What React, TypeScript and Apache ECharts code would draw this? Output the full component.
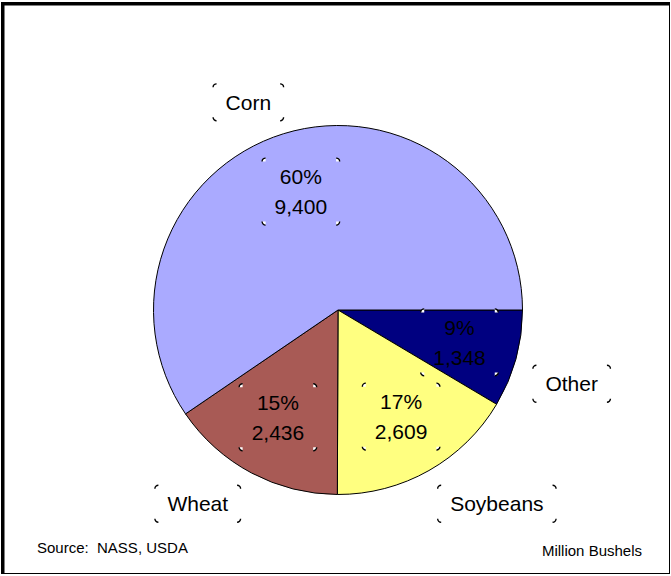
import React, { useEffect, useRef } from "react";
import * as echarts from "echarts";

// Crop production, million bushels (clockwise from 3 o'clock)
const categories = ["Other", "Soybeans", "Wheat", "Corn"];
const production = [1348, 2609, 2436, 9400];
const sliceColors = ["#000080", "#FFFF80", "#A85A55", "#AAAAFF"];
const sourceNote = "Source:  NASS, USDA";
const unitNote = "Million Bushels";

const FONT = "'Liberation Sans', Arial, Helvetica, sans-serif";
// nudges for the category names placed around the pie
const nameOffsets = [[9, 12], [44, -9], [-31, -12], [-21, 15]];
// nudges for the value labels inside the slices
const valueOffsets = [[0, -1], [1, -3], [-1, -4], [0, 2]];

type Rect = { x: number; y: number; width: number; height: number };

function cornerMarks(r: Rect, padX: number, filled: boolean) {
  const x0 = r.x - padX;
  const x1 = r.x + r.width + padX;
  const y0 = r.y;
  const y1 = r.y + r.height;
  const corners: [number, number, number, number][] = [
    [x0, y0, Math.PI, Math.PI * 1.5],
    [x1, y0, Math.PI * 1.5, Math.PI * 2],
    [x1, y1, 0, Math.PI * 0.5],
    [x0, y1, Math.PI * 0.5, Math.PI],
  ];
  const out: any[] = [];
  corners.forEach(([cx, cy, a0, a1]) => {
    if (filled) {
      out.push({
        type: "sector",
        silent: true,
        shape: { cx, cy, r0: 0, r: 3.5, startAngle: a0, endAngle: a1, clockwise: true },
        style: { fill: "#ffffff" },
        z: 20,
      });
    }
    out.push({
      type: "arc",
      silent: true,
      shape: { cx, cy, r: 3.5, startAngle: a0, endAngle: a1, clockwise: true },
      style: { stroke: "#000000", lineWidth: 1.4, fill: "none" },
      z: 21,
    });
  });
  return out;
}

export default function App() {
  const ref = useRef<HTMLDivElement>(null);

  useEffect(() => {
    if (!ref.current) return;
    const chart = echarts.init(ref.current, undefined, { renderer: "svg" });

    const valueRects: Rect[] = [];
    const nameRects: Rect[] = [];

    const pieData = categories.map((name, i) => ({
      name,
      value: production[i],
      itemStyle: { color: sliceColors[i] },
    }));

    const center = [338, 310];
    const R = 184.5;

    chart.setOption({
      animation: false,
      backgroundColor: "#ffffff",
      series: [
        {
          type: "pie",
          center,
          radius: [0, R],
          startAngle: 0,
          clockwise: true,
          silent: true,
          avoidLabelOverlap: false,
          label: { show: false },
          labelLine: { show: false },
          itemStyle: { borderColor: "#000000", borderWidth: 1 },
          data: pieData,
          z: 2,
        },
        {
          // percentages and values inside the slices
          type: "pie",
          center,
          radius: [R / 3, R],
          startAngle: 0,
          clockwise: true,
          silent: true,
          avoidLabelOverlap: false,
          itemStyle: { color: "rgba(0,0,0,0)", borderWidth: 0 },
          label: {
            show: true,
            position: "inside",
            rotate: 0,
            color: "#000000",
            fontFamily: FONT,
            fontSize: 21,
            lineHeight: 30,
            formatter: (p: any) =>
              Math.round(p.percent) + "%\n" + Number(p.value).toLocaleString("en-US"),
          },
          labelLine: { show: false },
          labelLayout: (p: any) => {
            valueRects[p.dataIndex] = p.labelRect;
            return {};
          },
          data: categories.map((name, i) => ({
            name,
            value: production[i],
            label: { offset: valueOffsets[i] },
          })),
          z: 3,
        },
        {
          // category names around the pie
          type: "pie",
          center,
          radius: [200, 260],
          startAngle: 0,
          clockwise: true,
          silent: true,
          avoidLabelOverlap: false,
          itemStyle: { color: "rgba(0,0,0,0)", borderWidth: 0 },
          label: {
            show: true,
            position: "inside",
            rotate: 0,
            color: "#000000",
            fontFamily: FONT,
            fontSize: 21,
            lineHeight: 30,
            formatter: "{b}",
          },
          labelLine: { show: false },
          labelLayout: (p: any) => {
            nameRects[p.dataIndex] = p.labelRect;
            return {};
          },
          data: categories.map((name, i) => ({
            name,
            value: production[i],
            label: { offset: nameOffsets[i] },
          })),
          z: 3,
        },
      ],
    });

    const frame = [
      { type: "rect", shape: { x: 1, y: 2, width: 669, height: 3.5 }, style: { fill: "#000" } },
      { type: "rect", shape: { x: 1, y: 2, width: 3.5, height: 572 }, style: { fill: "#000" } },
      { type: "rect", shape: { x: 669, y: 2, width: 1, height: 572 }, style: { fill: "#000" } },
      { type: "rect", shape: { x: 1, y: 573, width: 669, height: 1 }, style: { fill: "#000" } },
    ];
    const notes = [
      {
        type: "text",
        x: 37,
        y: 547,
        style: {
          text: sourceNote,
          font: `15px ${FONT}`,
          fill: "#000",
          textAlign: "left",
          textVerticalAlign: "middle",
        },
      },
      {
        type: "text",
        x: 642,
        y: 550,
        style: {
          text: unitNote,
          font: `15px ${FONT}`,
          fill: "#000",
          textAlign: "right",
          textVerticalAlign: "middle",
        },
      },
    ];

    const marks: any[] = [];
    valueRects.forEach((r) => r && marks.push(...cornerMarks(r, 9, true)));
    nameRects.forEach((r) => r && marks.push(...cornerMarks(r, 9, false)));

    chart.setOption({ graphic: { elements: [...frame, ...notes, ...marks] } });

    return () => chart.dispose();
  }, []);

  return (
    <div
      ref={ref}
      style={{ position: "fixed", left: 0, top: 0, width: 671, height: 576 }}
    />
  );
}
